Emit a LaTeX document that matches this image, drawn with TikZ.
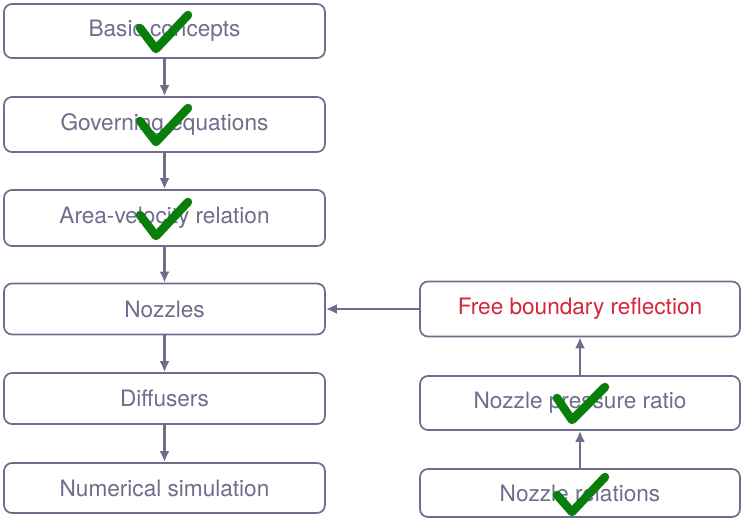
\documentclass[tikz,border=0pt]{standalone}
\usepackage{fontspec}
\setmainfont{TeX Gyre Heros}
\usetikzlibrary{arrows.meta}
\definecolor{slate}{HTML}{6E6E8C}
\definecolor{alert}{HTML}{D6263C}
\definecolor{tick}{HTML}{0A7E0A}
\begin{document}
\begin{tikzpicture}[x=1pt,y=-1pt,
  topic/.style={draw=slate, line width=1.7pt, rounded corners=8pt, fill=white,
    text=slate, font=\fontsize{22.6}{25}\selectfont, inner sep=0pt},
  leftbox/.style={topic, minimum width=321pt},
  rightbox/.style={topic, minimum width=320pt},
  link/.style={draw=slate, line width=2.2pt, -{Latex[length=11pt,width=10pt]}},
  done/.style={draw=tick, line width=8.5pt, line cap=round, line join=round}]
\useasboundingbox (0,0) rectangle (745,519);
% left column
\node[leftbox, minimum height=54pt] (basic) at (164.5,31) {Basic concepts};
\node[leftbox, minimum height=55pt] (gov) at (164.5,124.5) {Governing equations};
\node[leftbox, minimum height=56pt] (area) at (164.5,218) {Area-velocity relation};
\node[leftbox, minimum height=51pt] (noz) at (164.5,309) {Nozzles};
\node[leftbox, minimum height=51pt] (diff) at (164.5,398.5) {Diffusers};
\node[leftbox, minimum height=50pt] (num) at (164.5,488) {Numerical simulation};
% right column
\node[rightbox, minimum height=55pt, text=alert] (free) at (580,309) {Free boundary reflection};
\node[rightbox, minimum height=54pt] (npr) at (580,403) {Nozzle pressure ratio};
\node[rightbox, minimum height=48pt] (rel) at (580,493) {Nozzle relations};
% connectors
\draw[link] (basic) -- (gov);
\draw[link] (gov) -- (area);
\draw[link] (area) -- (noz);
\draw[link] (noz) -- (diff);
\draw[link] (diff) -- (num);
\draw[link] (rel) -- (npr);
\draw[link] (npr) -- (free);
\draw[link] (free.west) -- (noz.east);
% completed-topic ticks
\draw[done] (140,28) -- (156,49) -- (188,15);
\draw[done] (140,121) -- (156,142) -- (188,108);
\draw[done] (140,215) -- (156,236) -- (188,202);
\draw[done] (557,398) -- (572,420) -- (605,387);
\draw[done] (557,495) -- (572,512) -- (605,477);
\end{tikzpicture}
\end{document}
